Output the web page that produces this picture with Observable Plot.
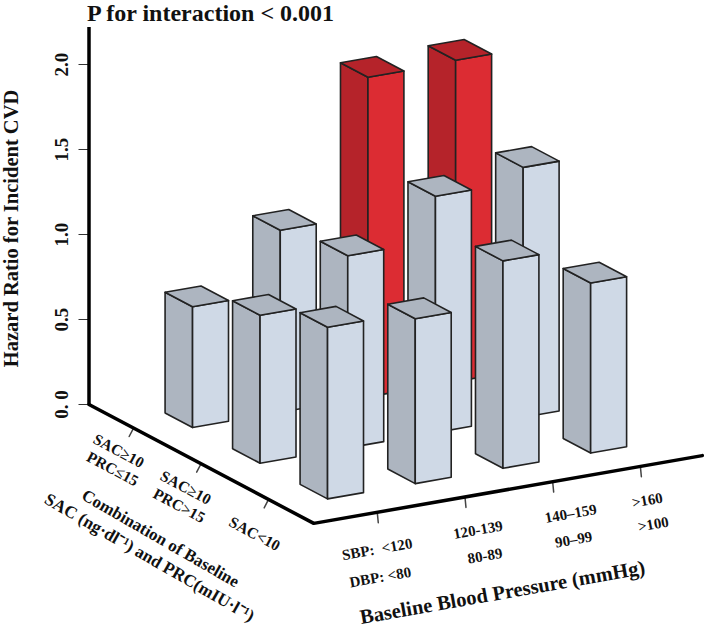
<!DOCTYPE html>
<html>
<head>
<meta charset="utf-8">
<style>html,body{margin:0;padding:0;background:#fff}svg{display:block}</style>
<script src="https://cdn.jsdelivr.net/npm/d3@7"></script>
<script src="https://cdn.jsdelivr.net/npm/@observablehq/plot@0.6"></script>
</head>
<body>
<script>
// Data
const combos = [["SAC≥10", "PRC≤15"], ["SAC≥10", "PRC>15"], ["SAC<10"]];
const bpLabels = [["SBP:  <120", "DBP: <80"], ["120-139", "80-89"], ["140–159", "90–99"], [">160", ">100"]];
const hrLowSacLowPrc = [0.71, 1.07, 1.88, 1.89]; // back row
const hrHighPrc = [0.87, 1.13, 1.39, 1.47];      // middle row
const hrLowSac = [1.01, 0.97, 1.22, 1.00];       // front row
const rowValues = [hrLowSacLowPrc, hrHighPrc, hrLowSac];
const redBars = ["0-2", "0-3"];
const yTicks = [0, 0.5, 1, 1.5, 2];

// Oblique projection of (column, row, height) into chart coordinates
const FONT = "'Liberation Serif', 'Times New Roman', serif";
const pxPerHR = 170;
const projX = (c, r) => 87.7 * c + 67.5 * r;
const projY = (c, r, h) => (15.3 * c - 35.7 * r) / pxPerHR + h;
const pt = (c, r, h, extra = {}) => ({x: projX(c, r), y: projY(c, r, h), ...extra});

// Bar geometry in model units
const c0 = 0.515, cw = 0.41, r1 = 0.865, rw = 0.407;
const rMax = 3.33, cMax = 4.43;
const pal = {
  grey: {front: "#cfd9e6", side: "#adb5c0", top: "#adb5c0"},
  red: {front: "#dc2c33", side: "#b5232a", top: "#b5232a"}
};

const facePts = [];
rowValues.forEach((vals, r) => vals.forEach((h, c) => {
  const p = redBars.includes(`${r}-${c}`) ? pal.red : pal.grey;
  const cL = c + c0, cR = cL + cw, rF = r + r1, rB = rF - rw;
  const add = (name, color, verts) => {
    const face = `${r}-${c}-${name}`;
    [...verts, verts[0]].forEach(v => facePts.push(pt(v[0], v[1], v[2], {face, color})));
  };
  add("side", p.side, [[cL, rB, 0], [cL, rF, 0], [cL, rF, h], [cL, rB, h]]);
  add("front", p.front, [[cL, rF, 0], [cR, rF, 0], [cR, rF, h], [cL, rF, h]]);
  add("top", p.top, [[cL, rB, h], [cL, rF, h], [cR, rF, h], [cR, rB, h]]);
}));

// Floor axes and ticks
const floor = [pt(0, 0, 0), pt(0, rMax, 0), pt(cMax, rMax, 0)];
const ticks = [];
combos.forEach((_, i) => {
  ticks.push(pt(0, i + 0.66, 0, {k: `r${i}`}), pt(-0.05, i + 0.66, -0.045, {k: `r${i}`}));
});
bpLabels.forEach((_, i) => {
  ticks.push(pt(i + 0.724, rMax, 0, {k: `c${i}`}), pt(i + 0.724, rMax + 0.015, -0.058, {k: `c${i}`}));
});

// Label layout (pixel nudges from each tick foot)
const rowNudge = [[[-15, 23], [-21, 41]], [[-15.5, 24], [-22, 42]], [[-14, 34.5]]];
const colNudge = [[[0, 37], [3, 65]], [[13, 33], [20, 59]], [[18, 32], [21, 58]], [[7, 34], [13, 58]]];
const nudged = (p, t, n) => ({x: p.x + n[0], y: p.y - n[1] / pxPerHR, t});

const rowText = combos.flatMap((lines, i) => lines.map((t, j) =>
  nudged(pt(0, i + 0.66, 0), t, rowNudge[i][j])));
const colText = bpLabels.flatMap((lines, i) => lines.map((t, j) =>
  nudged(pt(i + 0.724, rMax, 0), t, colNudge[i][j])));

const textBits = {fontFamily: FONT, fontWeight: "bold", fill: "#111", lineAnchor: "middle", textAnchor: "middle"};
const pinned = (t, px, py, rotate, fontSize) => Plot.text([t], {
  ...textBits, frameAnchor: "top-left", text: d => d, dx: px - 88.5, dy: py, rotate, fontSize
});

const chart = Plot.plot({
  width: 709, height: 630,
  marginLeft: 88.5, marginRight: 0, marginTop: 0, marginBottom: 0,
  x: {domain: [0, 620.5], range: [88.5, 709], axis: null},
  y: {domain: [-226 / pxPerHR, 404 / pxPerHR], range: [630, 0], axis: null},
  color: {type: "identity"},
  style: {background: "#fff", overflow: "visible"},
  marks: [
    Plot.axisY(yTicks, {
      anchor: "left", tickSize: 10, tickPadding: 11, tickRotate: -90, stroke: "#333",
      fontSize: 19, fontFamily: FONT, fontWeight: "bold", fill: "#111", label: null,
      tickFormat: d => d === 0 ? "0. 0" : d.toFixed(1)
    }),
    Plot.line(ticks, {x: "x", y: "y", z: "k", stroke: "#444", strokeWidth: 1.5}),
    Plot.ruleX([0], {y1: 0, y2: 2.218, stroke: "#000", strokeWidth: 3.5}),
    Plot.line(floor, {x: "x", y: "y", stroke: "#000", strokeWidth: 3.5, strokeLinejoin: "miter"}),
    Plot.line(facePts, {x: "x", y: "y", z: "face", fill: "color", stroke: "#222", strokeWidth: 1.6, strokeLinejoin: "round"}),
    Plot.text(rowText, {...textBits, x: "x", y: "y", text: "t", fontSize: 15.5, rotate: 28}),
    Plot.text(colText, {...textBits, x: "x", y: "y", text: "t", fontSize: 15, rotate: -10}),
    pinned("P for interaction < 0.001", 210, 13, 0, 24),
    pinned("Hazard Ratio for Incident CVD", 11, 228, -90, 20.5),
    pinned("Combination of Baseline", 160, 538, 30, 17),
    pinned("SAC (ng·dl⁻¹) and PRC(mIU·l⁻¹)", 149, 557, 30, 17.3),
    pinned("Baseline Blood Pressure (mmHg)", 502, 592, -10, 20.5)
  ]
});
document.body.appendChild(chart);
</script>
</body>
</html>
